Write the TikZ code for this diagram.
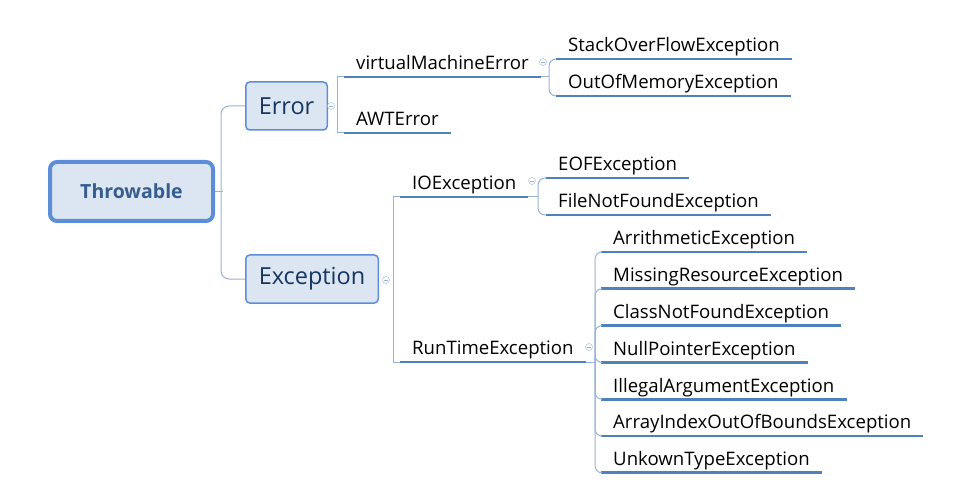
\documentclass[tikz,border=0pt]{standalone}
\usepackage{fontspec}
\setmainfont{Open Sans}
\usepackage{tikz}
\usetikzlibrary{positioning}
\definecolor{mapBlue}{RGB}{79, 129, 189}
\definecolor{mapLine}{RGB}{149, 179, 215}
\definecolor{mapFill}{RGB}{220, 230, 242}
\definecolor{mapText}{RGB}{23, 54, 93}
\definecolor{mapRoot}{RGB}{53, 93, 143}
\definecolor{mapBorder}{RGB}{91, 142, 214}

\begin{document}
\begin{tikzpicture}[x=1pt, y=-1pt,
    box/.style={draw=mapBorder, line width=1.5, fill=mapFill, rounded corners=4, text=mapText,
        minimum height=48, inner xsep=13, font=\fontsize{23.5}{26}\selectfont},
    leaf/.style={inner xsep=12, inner ysep=3, text height=14, text depth=4,
        font=\fontsize{18.6}{21}\selectfont, anchor=south west},
    uline/.style={mapBlue, line width=2.8},
    conn/.style={mapLine, line width=1},
    fold/.style={circle, draw=mapLine, inner sep=0, minimum size=7, fill=white,
        path picture={\draw[mapLine, line width=0.6] ([xshift=1.5]path picture bounding box.west) -- ([xshift=-1.5]path picture bounding box.east);}}]
    \useasboundingbox (0,0) rectangle (971,486);

    % Root and branches
    \node[box, line width=4, rounded corners=7, minimum width=163, minimum height=59, text=mapRoot,
        font=\bfseries\fontsize{19.5}{22}\selectfont] (thr) at (131.5,191.5) {Throwable};
    \node[box, anchor=west] (err) at (245,106) {Error};
    \node[box, anchor=west] (exc) at (245,279) {Exception};

    % Leaves
    \node[leaf] (vme) at (344,77) {virtualMachineError};
    \node[leaf] (awt) at (344,133) {AWTError};
    \node[leaf] (sof) at (556,59) {StackOverFlowException};
    \node[leaf] (oom) at (556,96) {OutOfMemoryException};
    \node[leaf] (ioe) at (400,197) {IOException};
    \node[leaf] (rte) at (400,362) {RunTimeException};
    \node[leaf] (eof) at (546,178) {EOFException};
    \node[leaf] (fnf) at (546,215) {FileNotFoundException};
    \foreach \n/\t [count=\i] in {ari/ArrithmeticException, mre/MissingResourceException,
        cnf/ClassNotFoundException, npe/NullPointerException, iae/IllegalArgumentException,
        aio/ArrayIndexOutOfBoundsException, ute/UnkownTypeException}
        \node[leaf] (\n) at (601,{215.2+36.8*\i}) {\t};

    % Underlines
    \foreach \n in {vme,awt,sof,oom,ioe,rte,eof,fnf,ari,mre,cnf,npe,iae,aio,ute}
        \draw[uline] (\n.south west) -- (\n.south east);

    % Throwable
    \draw[conn] (thr.east) -- ++(8,0);
    \draw[conn, rounded corners=8] (err.west) -- ++(-24,0) |- (exc.west);

    % Error
    \draw[conn] (vme.south west) -- ++(-7,0) |- (awt.south west);
    \node[fold] (errf) at (331,106) {};
    \coordinate (vmej) at (549,77);
    \draw[conn] (vme.south east) -- (vmej);
    \draw[conn, rounded corners=7] (sof.south west) -| (vmej) |- (oom.south west);
    \node[fold] (vmef) at (543,62) {};

    % Exception
    \draw[conn] (ioe.south west) -- ++(-7,0) |- (rte.south west);
    \node[fold] (excf) at (386,280) {};
    \coordinate (ioej) at (538,197);
    \draw[conn] (ioe.south east) -- (ioej);
    \draw[conn, rounded corners=7] (eof.south west) -| (ioej) |- (fnf.south west);
    \node[fold] (ioef) at (532,181) {};

    % RunTimeException
    \coordinate (rtej) at (595,362);
    \draw[conn] (rte.south east) -- (rtej);
    \foreach \n in {ari,mre,cnf,npe,iae,aio,ute}
        \draw[conn, rounded corners=7] (rtej) |- (\n.south west);
    \node[fold] (rtef) at (589,347) {};
\end{tikzpicture}
\end{document}
